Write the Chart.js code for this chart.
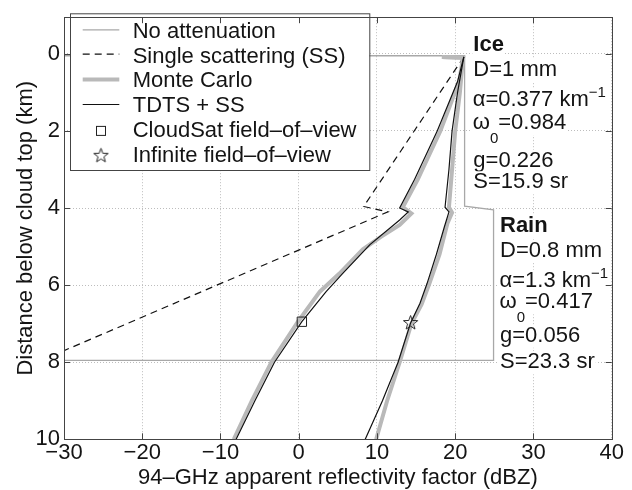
<!DOCTYPE html>
<html><head><meta charset="utf-8">
<script src="https://cdn.jsdelivr.net/npm/chart.js@4.4.0/dist/chart.umd.min.js"></script>
<style>html,body{margin:0;padding:0;background:#fff;}#wrap{width:632px;height:490px;}</style>
</head><body><div id="wrap"><canvas id="c" width="632" height="490"></canvas></div>
<script>
// ---- data (dBZ vs km below cloud top) ----
const xTicks = [-30, -20, -10, 0, 10, 20, 30, 40];
const yTicks = [0, 2, 4, 6, 8, 10];

const noAttX = [-30, 21.2, 21.2, 24.9, 24.9, -30];
const noAttY = [0.05, 0.05, 3.95, 4.05, 7.95, 7.95];

const ssX = [21.1, 8.3, 11.4, -30];
const ssY = [0.08, 3.96, 4.1, 7.7];

const mcCloudX = [18.3, 21.0, 20.5, 18.1, 15.2, 13.3, 14.4, 12.9, 10.5, 8.2, 5.2, 2.7, -0.1, -3.5, -6.0, -8.3];
const mcCloudY = [0.08, 0.1, 0.72, 2.0, 3.26, 3.98, 4.14, 4.44, 4.75, 5.07, 5.7, 6.17, 6.95, 8.0, 9.0, 10.0];

const mcInfX = [18.3, 21.0, 20.6, 20.0, 19.6, 19.2, 19.6, 19.0, 18.0, 16.7, 15.7, 14.4, 12.9, 11.3, 9.9];
const mcInfY = [0.08, 0.1, 1.0, 2.0, 3.0, 3.98, 4.12, 4.4, 5.2, 5.96, 6.5, 7.0, 8.0, 9.0, 10.0];

const tdCloudX = [21.1, 20.3, 17.7, 14.8, 12.9, 14.0, 12.9, 9.1, 5.6, 3.5, 0.4, -3.1, -5.6, -8.0];
const tdCloudY = [0.08, 0.72, 2.0, 3.26, 4.0, 4.1, 4.31, 4.95, 5.7, 6.17, 6.95, 8.0, 9.0, 10.0];

const tdInfX = [21.1, 20.3, 19.6, 19.2, 18.7, 19.2, 18.6, 17.6, 16.4, 15.5, 14.3, 12.7, 10.7, 8.5];
const tdInfY = [0.08, 1.0, 2.0, 3.0, 3.98, 4.1, 4.5, 5.2, 5.96, 6.47, 6.98, 8.0, 9.0, 10.0];

const cloudSatMark = [0.4, 6.95];
const infiniteMark = [14.3, 6.97];

const legendLabels = ['No attenuation', 'Single scattering (SS)', 'Monte Carlo', 'TDTS + SS',
  'CloudSat field\u2013of\u2013view', 'Infinite field\u2013of\u2013view'];

const xTitle = '94\u2013GHz apparent reflectivity factor (dBZ)';
const yTitle = 'Distance below cloud top (km)';

// ---- helpers ----
const FONT = '"Liberation Sans", Arial, Helvetica, sans-serif';
const FS = 22;
const TXT = '#141414';
const pts = (xs, ys) => xs.map((x, i) => ({x: x, y: ys[i]}));

function starPath(ctx, cx, cy, R, r) {
  ctx.beginPath();
  for (let i = 0; i < 10; i++) {
    const rad = i % 2 === 0 ? R : r;
    const ang = -Math.PI / 2 + i * Math.PI / 5;
    const px = cx + rad * Math.cos(ang), py = cy + rad * Math.sin(ang);
    if (i === 0) ctx.moveTo(px, py); else ctx.lineTo(px, py);
  }
  ctx.closePath();
}
const starImg = document.createElement('canvas');
starImg.width = 17; starImg.height = 17;
(function () {
  const c = starImg.getContext('2d');
  c.strokeStyle = '#222'; c.lineWidth = 1;
  starPath(c, 8.5, 9, 7.5, 3.1); c.stroke();
})();

function rich(ctx, x, y, parts, bg) {
  let w = 0;
  parts.forEach(p => {
    ctx.font = (p.b ? 'bold ' : '') + (p.s || FS) + 'px ' + FONT;
    p.w = ctx.measureText(p.t).width; w += p.w;
  });
  if (bg) { ctx.fillStyle = '#fff'; ctx.fillRect(x - 1, y - 17, w + 2, 23); }
  let cx = x;
  parts.forEach(p => {
    ctx.font = (p.b ? 'bold ' : '') + (p.s || FS) + 'px ' + FONT;
    ctx.fillStyle = TXT; ctx.textAlign = 'left'; ctx.textBaseline = 'alphabetic';
    ctx.fillText(p.t, cx, y + (p.dy || 0));
    cx += p.w;
  });
}

const decor = {
  id: 'decor',
  afterDatasetsDraw(chart) {
    const ctx = chart.ctx;
    ctx.save();
    // annotations
    const ice = [
      [[{t: 'Ice', b: true}], 473.3, 50.7],
      [[{t: 'D=1 mm'}], 473.3, 76],
      [[{t: '\u03b1=0.377 km'}, {t: '\u22121', s: 15, dy: -9}], 472.7, 106],
      [[{t: '\u03c9'}, {t: '0', s: 15, dy: 14}, {t: '=0.984'}], 472.7, 129.3],
      [[{t: 'g=0.226'}], 473.3, 166.7],
      [[{t: 'S=15.9 sr'}], 473.3, 188.3]
    ];
    const rain = [
      [[{t: 'Rain', b: true}], 500, 231.7],
      [[{t: 'D=0.8 mm'}], 500, 256.7],
      [[{t: '\u03b1=1.3 km'}, {t: '\u22121', s: 15, dy: -9}], 499.5, 286.7],
      [[{t: '\u03c9'}, {t: '0', s: 15, dy: 14}, {t: '=0.417'}], 499.5, 308.3],
      [[{t: 'g=0.056'}], 500, 341.7],
      [[{t: 'S=23.3 sr'}], 500, 368.3]
    ];
    ice.concat(rain).forEach(l => rich(ctx, l[1], l[2], l[0], true));

    // legend
    const L = {x0: 70, y0: 13.3, x1: 369.3, y1: 170};
    ctx.fillStyle = '#fff';
    ctx.fillRect(L.x0, L.y0, L.x1 - L.x0, L.y1 - L.y0);
    ctx.strokeStyle = '#444'; ctx.lineWidth = 1;
    ctx.strokeRect(L.x0 + 0.5, L.y0 + 0.5, L.x1 - L.x0, L.y1 - L.y0);
    const rowY = i => 29.8 + i * 24.9;
    const sx0 = 82.7, sx1 = 119.3, mx = 101;
    ctx.lineCap = 'butt';
    ctx.strokeStyle = '#a8a8a8'; ctx.lineWidth = 1.3; ctx.setLineDash([]);
    ctx.beginPath(); ctx.moveTo(sx0, rowY(0)); ctx.lineTo(sx1, rowY(0)); ctx.stroke();
    ctx.strokeStyle = '#111'; ctx.lineWidth = 1.2; ctx.setLineDash([7, 5]);
    ctx.beginPath(); ctx.moveTo(sx0, rowY(1) - 0.5); ctx.lineTo(sx1, rowY(1) - 0.5); ctx.stroke();
    ctx.setLineDash([]);
    ctx.strokeStyle = '#b9b9b9'; ctx.lineWidth = 4;
    ctx.beginPath(); ctx.moveTo(sx0, rowY(2)); ctx.lineTo(sx1, rowY(2)); ctx.stroke();
    ctx.strokeStyle = '#111'; ctx.lineWidth = 1.2;
    ctx.beginPath(); ctx.moveTo(sx0, rowY(3)); ctx.lineTo(sx1, rowY(3)); ctx.stroke();
    ctx.strokeStyle = '#222'; ctx.lineWidth = 1;
    ctx.strokeRect(mx - 4.5, rowY(4) + 1.5 - 4.5, 9, 9);
    ctx.drawImage(starImg, mx - 8.5, rowY(5) + 1.5 - 9);
    ctx.font = FS + 'px ' + FONT; ctx.fillStyle = TXT; ctx.textAlign = 'left'; ctx.textBaseline = 'alphabetic';
    legendLabels.forEach((t, i) => ctx.fillText(t, 132.7, rowY(i) + 7.8));
    ctx.restore();
  },
  afterDraw(chart) {
    const ctx = chart.ctx, a = chart.chartArea, xs = chart.scales.x, ys = chart.scales.y;
    ctx.save();
    ctx.strokeStyle = '#444'; ctx.lineWidth = 1; ctx.setLineDash([]);
    ctx.strokeRect(Math.round(a.left) + 0.5, Math.round(a.top) + 0.5,
      Math.round(a.right) - Math.round(a.left), Math.round(a.bottom) - Math.round(a.top));
    ctx.beginPath();
    const T = 6;
    xTicks.forEach(v => {
      const px = Math.round(xs.getPixelForValue(v)) + 0.5;
      ctx.moveTo(px, a.bottom); ctx.lineTo(px, a.bottom - T);
      ctx.moveTo(px, a.top); ctx.lineTo(px, a.top + T);
    });
    yTicks.forEach(v => {
      const py = Math.round(ys.getPixelForValue(v)) + 0.5;
      ctx.moveTo(a.left, py); ctx.lineTo(a.left + T, py);
      ctx.moveTo(a.right, py); ctx.lineTo(a.right - T, py);
    });
    ctx.stroke();
    ctx.restore();
  }
};

const lineDs = (label, xs, ys, color, width, order, dash) => ({
  label: label, data: pts(xs, ys), showLine: true, borderColor: color, borderWidth: width,
  borderDash: dash || [], pointRadius: 0, pointHoverRadius: 0, fill: false, tension: 0, order: order,
  borderJoinStyle: 'miter', borderCapStyle: 'butt'
});

new Chart(document.getElementById('c'), {
  type: 'scatter',
  data: {
    datasets: [
      lineDs(legendLabels[0], noAttX, noAttY, '#a8a8a8', 1.3, 6),
      lineDs(legendLabels[1], ssX, ssY, '#111', 1.2, 5, [7, 5]),
      lineDs(legendLabels[2], mcCloudX, mcCloudY, '#b9b9b9', 4, 4),
      lineDs(legendLabels[2], mcInfX, mcInfY, '#b9b9b9', 4, 4),
      lineDs(legendLabels[3], tdCloudX, tdCloudY, '#111', 1.2, 2),
      lineDs(legendLabels[3], tdInfX, tdInfY, '#111', 1.2, 2),
      {label: legendLabels[4], data: [{x: cloudSatMark[0], y: cloudSatMark[1]}], pointStyle: 'rect',
        pointRadius: 6.6, pointBorderColor: '#222', pointBackgroundColor: 'rgba(0,0,0,0)', pointBorderWidth: 1, order: 0},
      {label: legendLabels[5], data: [{x: infiniteMark[0], y: infiniteMark[1]}], pointStyle: starImg,
        pointRadius: 8, order: 0}
    ]
  },
  options: {
    responsive: false, animation: false, devicePixelRatio: 1,
    layout: {padding: {left: 0, right: 20.3, top: 7.3, bottom: 0}},
    plugins: {legend: {display: false}, tooltip: {enabled: false}},
    scales: {
      x: {
        type: 'linear', position: 'bottom', min: -30, max: 40,
        afterBuildTicks: s => { s.ticks = xTicks.map(v => ({value: v})); },
        afterFit: s => { s.height = 50.7; },
        grid: {color: '#bdbdbd', lineWidth: 1, drawTicks: false},
        border: {display: false, dash: [1, 2]},
        ticks: {color: TXT, font: {family: FONT, size: FS}, padding: 0, maxRotation: 0,
          callback: v => v < 0 ? '\u2212' + Math.abs(v) : String(v)},
        title: {display: true, text: xTitle, color: TXT, font: {family: FONT, size: FS, lineHeight: 1.1},
          padding: {top: 0, bottom: 0}}
      },
      y: {
        type: 'linear', reverse: true, min: -0.95, max: 10,
        afterBuildTicks: s => { s.ticks = yTicks.map(v => ({value: v})); },
        afterFit: s => { s.width = 64; },
        grid: {color: '#bdbdbd', lineWidth: 1, drawTicks: false},
        border: {display: false, dash: [1, 2]},
        ticks: {color: TXT, font: {family: FONT, size: FS}, padding: 4},
        title: {display: true, text: yTitle, color: TXT, font: {family: FONT, size: FS, lineHeight: 1.1},
          padding: {top: 14, bottom: 0}}
      }
    }
  },
  plugins: [decor]
});
</script>
</body></html>
